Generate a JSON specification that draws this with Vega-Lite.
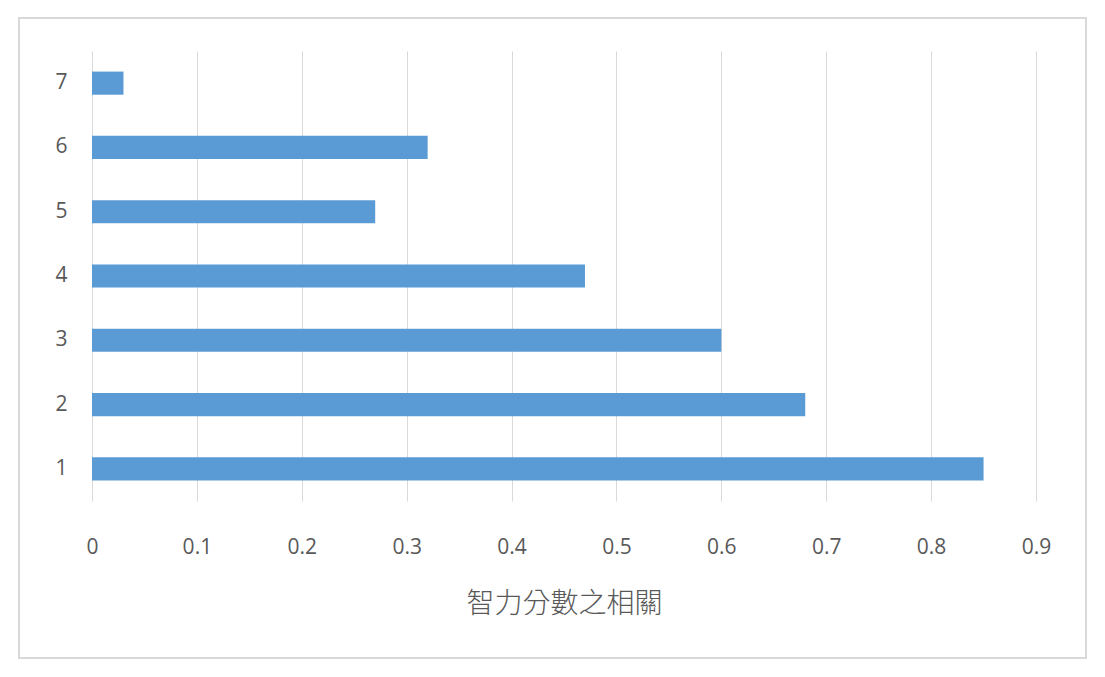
{
  "$schema": "https://vega.github.io/schema/vega-lite/v6.json",
  "autosize": "none",
  "padding": {"left": 92, "top": 51, "right": 69, "bottom": 176},
  "width": 944,
  "height": 450,
  "background": "white",
  "config": {
    "view": {"stroke": null},
    "axis": {
      "labelColor": "#595959",
      "titleColor": "#595959",
      "labelFont": "Open Sans",
      "domain": false,
      "ticks": false,
      "tickSize": 0
    }
  },
  "data": {
    "values": [
      {"group": "1", "corr": 0.85},
      {"group": "2", "corr": 0.68},
      {"group": "3", "corr": 0.60},
      {"group": "4", "corr": 0.47},
      {"group": "5", "corr": 0.27},
      {"group": "6", "corr": 0.32},
      {"group": "7", "corr": 0.03}
    ]
  },
  "layer": [
    {
      "mark": {"type": "rect", "filled": false, "stroke": "#d9d9d9", "strokeWidth": 1.5},
      "encoding": {
        "x": {"datum": -0.0696, "type": "quantitative"},
        "x2": {"datum": 0.9477},
        "y": {"datum": 1.0733, "type": "quantitative", "scale": {"domain": [0, 1], "nice": false, "zero": false}, "axis": null},
        "y2": {"datum": -0.349}
      }
    },
    {
      "mark": {"type": "bar", "color": "#5b9bd5"},
      "encoding": {
        "y": {
          "field": "group",
          "type": "ordinal",
          "sort": "descending",
          "scale": {"paddingInner": 0.64, "paddingOuter": 0.32},
          "axis": {
            "title": null,
            "grid": false,
            "labelFontSize": 21,
            "labelPadding": 25
          }
        },
        "x": {
          "field": "corr",
          "type": "quantitative",
          "scale": {"domain": [0, 0.9], "nice": false},
          "axis": {
            "title": "智力分數之相關",
            "titleFont": "Noto Sans CJK TC",
            "titleFontWeight": 300,
            "titleFontSize": 28,
            "titlePadding": 33,
            "values": [0, 0.1, 0.2, 0.3, 0.4, 0.5, 0.6, 0.7, 0.8, 0.9],
            "format": "~g",
            "labelFontSize": 21,
            "labelPadding": 35,
            "labelFlush": false,
            "labelOverlap": false,
            "grid": true,
            "gridColor": "#d9d9d9",
            "gridWidth": 1
          }
        }
      }
    }
  ],
  "resolve": {"scale": {"y": "independent"}}
}
